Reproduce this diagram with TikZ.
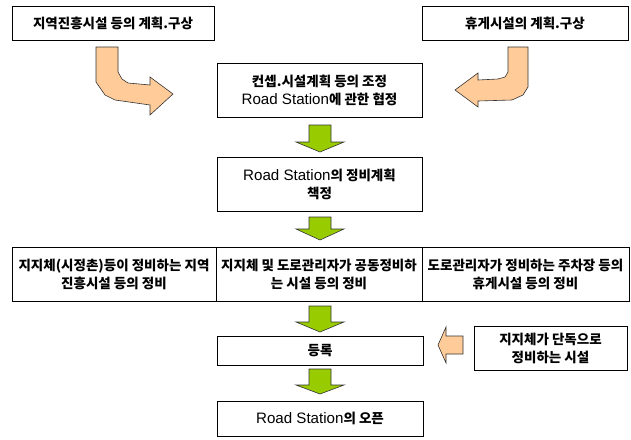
\documentclass[tikz,border=0pt]{standalone}
\usepackage{fontspec}
\setmainfont{Liberation Sans}[Scale=1.12]
\newfontfamily\krfont{Noto Sans CJK KR}
\newcommand\kor[1]{{\krfont\bfseries #1}}
\definecolor{orangefill}{HTML}{FFCC99}
\definecolor{greenfill}{HTML}{99CC00}
\begin{document}
\begin{tikzpicture}[x=1pt,y=-1pt,
  box/.style={draw, line width=0.8pt, align=center, inner sep=0pt,
    font=\fontsize{13.5}{18}\selectfont},
  greenarrow/.style={draw=black!80, line width=0.6pt, fill=greenfill},
  orangearrow/.style={draw=black!80, line width=0.6pt, fill=orangefill}]
\useasboundingbox (0,0) rectangle (631,439);
% boxes
\node[box, minimum width=202, minimum height=34] (tl) at (113,23) {\kor{지역진흥시설 등의 계획.구상}};
\node[box, minimum width=206, minimum height=34] (tr) at (525,23) {\kor{휴게시설의 계획.구상}};
\node[box, minimum width=205, minimum height=54] (c1) at (319.5,90) {\kor{컨셉.시설계획 등의 조정}\\Road Station\kor{에 관한 협정}};
\node[box, minimum width=205, minimum height=54] (c2) at (319.5,184) {Road Station\kor{의 정비계획}\\\kor{책정}};
\node[box, minimum width=204, minimum height=54] (r1) at (114,274) {\kor{지지체(시정촌)등이 정비하는 지역}\\\kor{진흥시설 등의 정비}};
\node[box, minimum width=206, minimum height=54] (r2) at (319,274) {\kor{지지체 및 도로관리자가 공동정비하}\\\kor{는 시설 등의 정비}};
\node[box, minimum width=207, minimum height=54] (r3) at (525.5,274) {\kor{도로관리자가 정비하는 주차장 등의}\\\kor{휴게시설 등의 정비}};
\node[box, minimum width=206, minimum height=29] (reg) at (320,350.5) {\kor{등록}};
\node[box, minimum width=153, minimum height=44] (solo) at (550.5,348) {\kor{지지체가 단독으로}\\\kor{정비하는 시설}};
\node[box, minimum width=206, minimum height=35] (open) at (320,418.5) {Road Station\kor{의 오픈}};
% green block arrows
\foreach \t/\b/\p in {125/142/152, 217/229/240, 306/322/332, 369/385/394}{
  \filldraw[greenarrow] (309,\t) -- (331,\t) -- (331,\b) -- (344,\b) -- (320,\p) -- (296,\b) -- (309,\b) -- cycle;
}
% orange small arrow
\filldraw[orangearrow] (463,336) -- (446,336) -- (446,327) -- (438,345) -- (446,363) -- (446,354) -- (463,354) -- cycle;
% orange curved arrows
\filldraw[orangearrow] (96,47) -- (118,47) -- (118,72) -- (122,79) -- (128,83) -- (150,85) -- (150,77) -- (173,94) -- (150,115) -- (150,105) -- (115,100) -- (105,95) -- (96,82) -- cycle;
\filldraw[orangearrow] (508,47) -- (528,47) -- (528,87) -- (523,95) -- (512,100) -- (478,101) -- (478,107) -- (455,90) -- (478,73) -- (478,80) -- (498,79) -- (505,77) -- (508,72) -- cycle;
\end{tikzpicture}
\end{document}
